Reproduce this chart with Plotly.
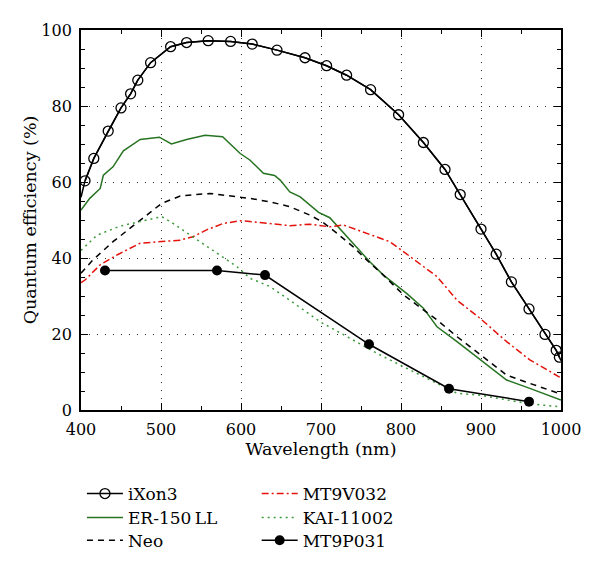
import plotly.graph_objects as go

# iXon3 (line + open circle markers)
ixon_x = [400, 405, 416, 434, 450, 462, 471, 487, 512, 532, 559, 587, 614, 645, 680, 707, 732, 762, 797, 828, 855, 874, 900, 919, 938, 960, 980, 994, 998, 1000]
ixon_y = [56, 60.3, 66.2, 73.4, 79.5, 83.2, 86.8, 91.4, 95.6, 96.7, 97.2, 97.0, 96.3, 94.7, 92.7, 90.6, 88.1, 84.3, 77.7, 70.4, 63.3, 56.7, 47.6, 41.0, 33.7, 26.6, 19.9, 15.7, 13.9, 13.0]
ixon_mx = [405, 416, 434, 450, 462, 471, 487, 512, 532, 559, 587, 614, 645, 680, 707, 732, 762, 797, 828, 855, 874, 900, 919, 938, 960, 980, 994, 998]
ixon_my = [60.3, 66.2, 73.4, 79.5, 83.2, 86.8, 91.4, 95.6, 96.7, 97.2, 97.0, 96.3, 94.7, 92.7, 90.6, 88.1, 84.3, 77.7, 70.4, 63.3, 56.7, 47.6, 41.0, 33.7, 26.6, 19.9, 15.7, 13.9]

# ER-150LL (green solid)
er_x = [400, 411, 424, 428, 440, 453, 474, 498, 513, 532, 555, 577, 599, 611, 628, 642, 649, 661, 674, 697, 711, 736, 761, 778, 807, 828, 845, 870, 899, 932, 961, 990, 1000]
er_y = [52.6, 55.7, 58.3, 61.8, 64.0, 68.2, 71.2, 71.8, 70.0, 71.2, 72.3, 71.9, 67.5, 65.8, 62.3, 61.7, 60.5, 57.4, 56.1, 52.0, 50.6, 44.7, 39.0, 35.5, 30.7, 26.8, 21.9, 18.0, 13.2, 7.9, 5.7, 3.5, 2.6]

# Neo (black dashed)
neo_x = [400, 415, 440, 474, 501, 524, 561, 595, 611, 636, 661, 686, 701, 720, 740, 757, 778, 803, 828, 845, 870, 899, 932, 961, 997, 1000]
neo_y = [36.0, 39.5, 44.3, 50.0, 54.4, 56.3, 57.0, 56.1, 55.7, 54.8, 53.5, 51.3, 49.6, 46.5, 43.0, 39.5, 35.5, 30.3, 26.3, 23.7, 19.3, 14.5, 9.2, 7.0, 4.4, 4.2]

# MT9V032 (red dash-dot)
mt9v_x = [400, 405, 424, 445, 474, 499, 524, 540, 557, 578, 599, 611, 636, 661, 686, 711, 728, 745, 770, 786, 803, 828, 845, 870, 899, 932, 961, 997, 1000]
mt9v_y = [33.5, 34.2, 38.2, 40.8, 43.9, 44.3, 44.7, 45.6, 47.4, 49.1, 49.8, 49.6, 49.1, 48.5, 48.9, 48.2, 48.7, 47.4, 45.6, 44.3, 41.7, 37.7, 35.1, 28.9, 24.1, 18.0, 13.2, 8.8, 8.5]

# KAI-11002 (green dotted)
kai_x = [400, 420, 449, 474, 490, 501, 515, 540, 565, 595, 611, 636, 661, 699, 736, 770, 803, 836, 870, 899, 932, 961, 997, 1000]
kai_y = [42.0, 46.0, 48.4, 49.6, 50.4, 50.9, 49.1, 45.6, 42.1, 37.7, 34.7, 32.5, 28.9, 23.2, 18.9, 14.9, 11.4, 7.9, 4.4, 3.9, 2.6, 1.6, 0.9, 0.8]

# MT9P031 (line + filled markers)
mt9p_x = [430, 570, 630, 760, 860, 960]
mt9p_y = [36.7, 36.7, 35.5, 17.3, 5.6, 2.2]

x_ticks = [400, 500, 600, 700, 800, 900, 1000]
y_ticks = [0, 20, 40, 60, 80, 100]

FONT = "DejaVu Serif"
GREEN = "#267321"
KGREEN = "#3c9a3c"
RED = "#e3120b"

fig = go.Figure()
fig.add_trace(go.Scatter(x=ixon_x, y=ixon_y, mode="lines", line=dict(color="black", width=1.5),
                         showlegend=False, hoverinfo="skip"))
fig.add_trace(go.Scatter(x=ixon_mx, y=ixon_my, mode="lines+markers", name="iXon3",
                         line=dict(color="black", width=1.5),
                         marker=dict(symbol="circle-open", size=10, color="black", line=dict(width=1.3)),
                         legend="legend"))
fig.add_trace(go.Scatter(x=er_x, y=er_y, mode="lines", name="ER-150\u2009LL",
                         line=dict(color=GREEN, width=1.5), legend="legend2"))
fig.add_trace(go.Scatter(x=neo_x, y=neo_y, mode="lines", name="Neo",
                         line=dict(color="black", width=1.5, dash="6px,5px"), legend="legend3"))
fig.add_trace(go.Scatter(x=mt9v_x, y=mt9v_y, mode="lines", name="MT9V032",
                         line=dict(color=RED, width=1.5, dash="7px,3px,2px,3px"), legend="legend4"))
fig.add_trace(go.Scatter(x=kai_x, y=kai_y, mode="lines", name="KAI-11002",
                         line=dict(color=KGREEN, width=1.5, dash="2px,4px"), legend="legend5"))
fig.add_trace(go.Scatter(x=mt9p_x, y=mt9p_y, mode="lines+markers", name="MT9P031",
                         line=dict(color="black", width=1.5),
                         marker=dict(symbol="circle", size=10, color="black"), legend="legend6"))

axis_common = dict(
    showline=True, linecolor="black", linewidth=1.8, mirror="ticks",
    ticks="inside", ticklen=7, tickwidth=1.3, tickcolor="black",
    showgrid=True, gridcolor="#333333", gridwidth=1, griddash="1px,7px",
    zeroline=False,
    tickfont=dict(family=FONT, size=16, color="black"),
)

fig.update_xaxes(range=[400, 1000], tickvals=x_ticks, ticklabelstandoff=4,
                 title=dict(text="Wavelength (nm)", font=dict(family=FONT, size=17.5, color="black"), standoff=4),
                 minor=dict(dtick=50, tick0=400, ticks="inside", ticklen=4, tickcolor="black", showgrid=False),
                 **axis_common)
fig.update_yaxes(range=[0, 100], tickvals=y_ticks, ticklabelstandoff=4,
                 title=dict(text="Quantum efficiency (%)", font=dict(family=FONT, size=17.5, color="black"), standoff=0),
                 minor=dict(dtick=5, tick0=0, ticks="inside", ticklen=4, tickcolor="black", showgrid=False),
                 **axis_common)

def leg(x, y):
    return dict(x=x, y=y, xanchor="left", yanchor="middle",
                font=dict(family=FONT, size=17, color="black"), bgcolor="rgba(0,0,0,0)",
                itemwidth=36, borderwidth=0)

col1, col2 = 0.002, 0.366
row1, row2, row3 = -0.221, -0.284, -0.344

fig.update_layout(
    width=592, height=565,
    margin=dict(l=73, r=39, t=22, b=163),
    plot_bgcolor="white", paper_bgcolor="white",
    font=dict(family=FONT),
    legend=leg(col1, row1),
    legend2=leg(col1, row2),
    legend3=leg(col1, row3),
    legend4=leg(col2, row1),
    legend5=leg(col2, row2),
    legend6=leg(col2, row3),
)

fig.write_html("out.html")
